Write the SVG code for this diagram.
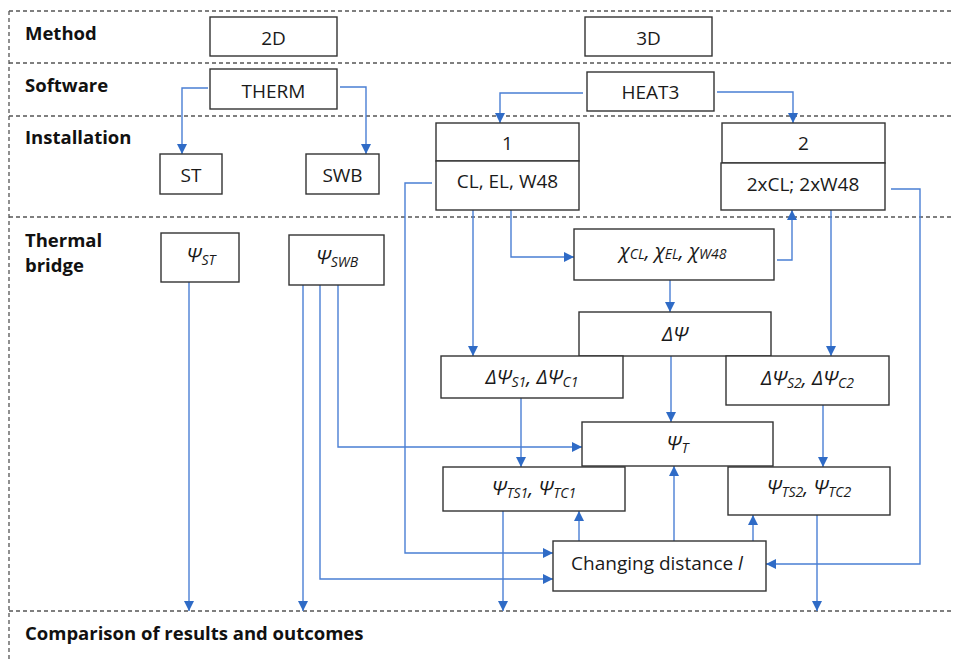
<svg xmlns="http://www.w3.org/2000/svg" width="954" height="660" viewBox="0 0 954 660">
<style>
.frame{stroke:#555;stroke-width:1.3;stroke-dasharray:4 3;fill:none}
.lbl{font-family:"Open Sans","Noto Sans",sans-serif;font-weight:700;font-size:18.5px;fill:#111}
.box{fill:#fff;stroke:#333;stroke-width:1.4}
.t{font-family:"Open Sans","Noto Sans",sans-serif;font-size:19px;fill:#1a1a1a;text-anchor:middle}
.m{font-family:"Open Sans","Noto Sans",sans-serif;font-size:20px;font-style:italic;fill:#1a1a1a;text-anchor:middle}
.sub{font-size:14px}
.c{fill:none;stroke:#4a7fd4;stroke-width:1.4;marker-end:url(#ah)}
</style>
<defs>
<marker id="ah" viewBox="0 0 10 10" refX="10" refY="5" markerWidth="10" markerHeight="10" markerUnits="userSpaceOnUse" orient="auto">
<path d="M0,0 L10,5 L0,10 Z" fill="#2f6bc6"/>
</marker>
</defs>
<rect width="954" height="660" fill="#fff"/>
<g id="frame">
<path class="frame" d="M9,11 H954 M9,63 H954 M9,116 H954 M9,217 H954 M9,611 H954 M9,11 V660"/>
<text class="lbl" x="25" y="40">Method</text>
<text class="lbl" x="25" y="92">Software</text>
<text class="lbl" x="25" y="144">Installation</text>
<text class="lbl" x="25" y="247">Thermal</text>
<text class="lbl" x="25" y="272">bridge</text>
<text class="lbl" x="25" y="640">Comparison of results and outcomes</text>
</g>
<g id="connectors">
<path class="c" d="M208,88 H182 V154"/>
<path class="c" d="M340,87 H366 V154"/>
<path class="c" d="M583,93 H500 V123"/>
<path class="c" d="M717,92 H793 V123"/>
<path class="c" d="M432,183 H405 V553 H553"/>
<path class="c" d="M473,210 V356"/>
<path class="c" d="M511,210 V257 H574"/>
<path class="c" d="M777,260 H792 V210"/>
<path class="c" d="M831,210 V356"/>
<path class="c" d="M891,189 H920 V564 H766"/>
<path class="c" d="M670,280 V312"/>
<path class="c" d="M671,356 V422"/>
<path class="c" d="M521,398 V467"/>
<path class="c" d="M823,405 V467"/>
<path class="c" d="M189,282 V611"/>
<path class="c" d="M303,285 V611"/>
<path class="c" d="M320,283 V579 H553"/>
<path class="c" d="M338,285 V447 H582"/>
<path class="c" d="M503,506 V611"/>
<path class="c" d="M817,507 V611"/>
<path class="c" d="M579,541 V511"/>
<path class="c" d="M674,541 V466"/>
<path class="c" d="M753,541 V515"/>
</g>
<g id="n2D"><rect class="box" x="210" y="17" width="127" height="39"/><text class="t" x="273.5" y="45">2D</text></g>
<g id="n3D"><rect class="box" x="585" y="17" width="127" height="39"/><text class="t" x="648.5" y="45">3D</text></g>
<g id="nTHERM"><rect class="box" x="210" y="69" width="127" height="40"/><text class="t" x="273.5" y="98">THERM</text></g>
<g id="nHEAT3"><rect class="box" x="587" y="72" width="127" height="39"/><text class="t" x="650.5" y="99">HEAT3</text></g>
<g id="nST"><rect class="box" x="160" y="154" width="62" height="40"/><text class="t" x="191" y="182">ST</text></g>
<g id="nSWB"><rect class="box" x="306" y="154" width="73" height="40"/><text class="t" x="342.5" y="182">SWB</text></g>
<g id="n1">
<rect class="box" x="436" y="123" width="143" height="38"/><text class="t" x="507.5" y="150">1</text>
<rect class="box" x="436" y="161" width="143" height="49"/><text class="t" x="507.5" y="188">CL, EL, W48</text>
</g>
<g id="n2">
<rect class="box" x="722" y="123" width="163" height="40"/><text class="t" x="803.5" y="150">2</text>
<rect class="box" x="721" y="163" width="164" height="47"/><text class="t" x="803" y="191">2xCL; 2xW48</text>
</g>
<g id="nPsiST"><rect class="box" x="161" y="233" width="78" height="49"/><text class="m" x="201" y="262">Ψ<tspan class="sub" dy="3">ST</tspan></text></g>
<g id="nPsiSWB"><rect class="box" x="289" y="235" width="95" height="50"/><text class="m" x="337" y="264">Ψ<tspan class="sub" dy="3">SWB</tspan></text></g>
<g id="nChi"><rect class="box" x="574" y="229" width="200" height="51"/><text class="m" x="673" y="258">χ<tspan class="sub" dy="1">CL</tspan><tspan dy="-1">, χ</tspan><tspan class="sub" dy="1">EL</tspan><tspan dy="-1">, χ</tspan><tspan class="sub" dy="1">W48</tspan></text></g>
<g id="nDPsi"><rect class="box" x="579" y="312" width="192" height="44"/><text class="m" x="675" y="341">ΔΨ</text></g>
<g id="nDPsi1"><rect class="box" x="441" y="356" width="182" height="42"/><text class="m" x="532" y="384">ΔΨ<tspan class="sub" dy="3">S1</tspan><tspan dy="-3">, ΔΨ</tspan><tspan class="sub" dy="3">C1</tspan></text></g>
<g id="nDPsi2"><rect class="box" x="726" y="356" width="163" height="49"/><text class="m" x="807.5" y="385">ΔΨ<tspan class="sub" dy="3">S2</tspan><tspan dy="-3">, ΔΨ</tspan><tspan class="sub" dy="3">C2</tspan></text></g>
<g id="nPsiT"><rect class="box" x="582" y="422" width="191" height="44"/><text class="m" x="677.5" y="450">Ψ<tspan class="sub" dy="3">T</tspan></text></g>
<g id="nPsiT1"><rect class="box" x="443" y="467" width="182" height="44"/><text class="m" x="534" y="495">Ψ<tspan class="sub" dy="3">TS1</tspan><tspan dy="-3">, Ψ</tspan><tspan class="sub" dy="3">TC1</tspan></text></g>
<g id="nPsiT2"><rect class="box" x="728" y="467" width="162" height="48"/><text class="m" x="809" y="494">Ψ<tspan class="sub" dy="3">TS2</tspan><tspan dy="-3">, Ψ</tspan><tspan class="sub" dy="3">TC2</tspan></text></g>
<g id="nDist"><rect class="box" x="553" y="541" width="213" height="50"/><text class="t" x="657" y="570">Changing distance <tspan font-style="italic">l</tspan></text></g>
</svg>
